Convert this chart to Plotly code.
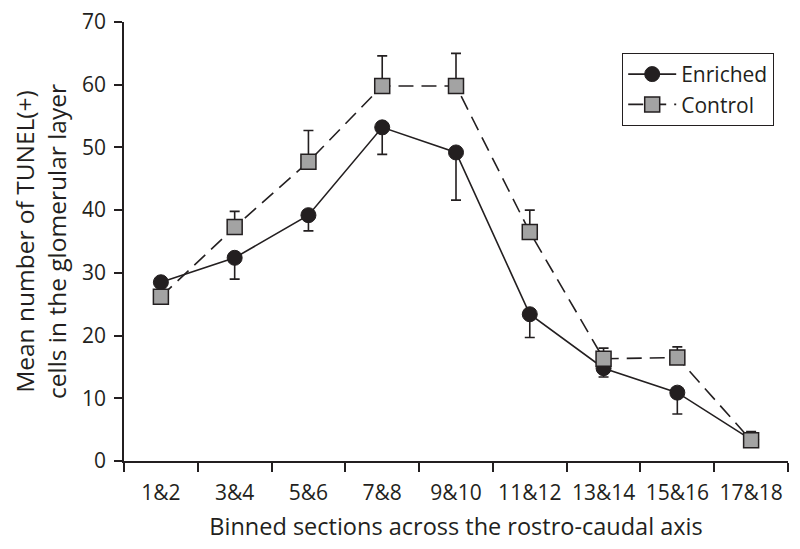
import plotly.graph_objects as go

# Binned sections along the rostro-caudal axis
sections = ["1&2", "3&4", "5&6", "7&8", "9&10", "11&12", "13&14", "15&16", "17&18"]

# Mean TUNEL(+) cells
enriched_mean = [28.5, 32.4, 39.2, 53.2, 49.2, 23.4, 14.8, 10.9, 3.4]
enriched_err = [2.0, 3.4, 2.5, 4.3, 7.6, 3.7, 1.4, 3.4, 1.0]   # drawn downward only
control_mean = [26.2, 37.3, 47.7, 59.8, 59.8, 36.5, 16.3, 16.5, 3.3]
control_err = [1.0, 2.5, 5.0, 4.8, 5.2, 3.5, 1.7, 1.7, 1.4]    # drawn upward only

INK = "#231f20"
GREY = "#a3a3a3"
FONT = "Open Sans"

fig = go.Figure()

fig.add_trace(go.Scatter(
    x=sections,
    y=enriched_mean,
    name="Enriched",
    mode="lines+markers",
    line=dict(color=INK, width=1.6),
    marker=dict(symbol="circle", size=15, color=INK, line=dict(color=INK, width=1)),
    error_y=dict(type="data", symmetric=False, array=[0] * len(enriched_err),
                 arrayminus=enriched_err, color=INK, thickness=1.6, width=5),
))

fig.add_trace(go.Scatter(
    x=sections,
    y=control_mean,
    name="Control",
    mode="lines+markers",
    line=dict(color=INK, width=1.6, dash="15px,8px"),
    marker=dict(symbol="square", size=15, color=GREY, line=dict(color=INK, width=1.5)),
    error_y=dict(type="data", symmetric=False, array=control_err,
                 arrayminus=[0] * len(control_err), color=INK, thickness=1.6, width=5),
))

# the page puts the figure 8px in from the top-left corner, so size it to fit
fig.update_layout(
    width=792,
    height=541,
    margin=dict(l=116, r=12, t=14, b=88),
    paper_bgcolor="white",
    plot_bgcolor="white",
    font=dict(family=FONT, size=21, color=INK),
    legend=dict(
        x=0.75, y=0.93, xanchor="left", yanchor="top",
        bordercolor=INK, borderwidth=1.2,
        font=dict(size=21, color=INK),
        bgcolor="white",
        tracegroupgap=0,
        itemwidth=48,
    ),
    xaxis=dict(
        type="category",
        tickson="boundaries",
        ticks="outside",
        ticklen=9,
        tickwidth=1.5,
        tickcolor=INK,
        tickangle=0,
        tickfont=dict(size=21),
        ticklabelstandoff=12,
        showline=True,
        linecolor=INK,
        linewidth=1.5,
        showgrid=False,
        zeroline=False,
        automargin=False,
        range=[-0.5, 8.5],
        title=dict(text="Binned sections across the rostro-caudal axis",
                   font=dict(size=23.5), standoff=14),
    ),
    yaxis=dict(
        range=[0, 70],
        dtick=10,
        ticks="outside",
        ticklen=8,
        tickwidth=1.5,
        tickcolor=INK,
        tickfont=dict(size=21),
        ticklabelstandoff=4,
        ticklabeloverflow="allow",
        showline=True,
        linecolor=INK,
        linewidth=1.5,
        showgrid=False,
        zeroline=False,
        automargin=False,
        title=dict(text="Mean number of TUNEL(+)<br>cells in the glomerular layer",
                   font=dict(size=24.5), standoff=14),
    ),
)

fig.write_html("out.html")
